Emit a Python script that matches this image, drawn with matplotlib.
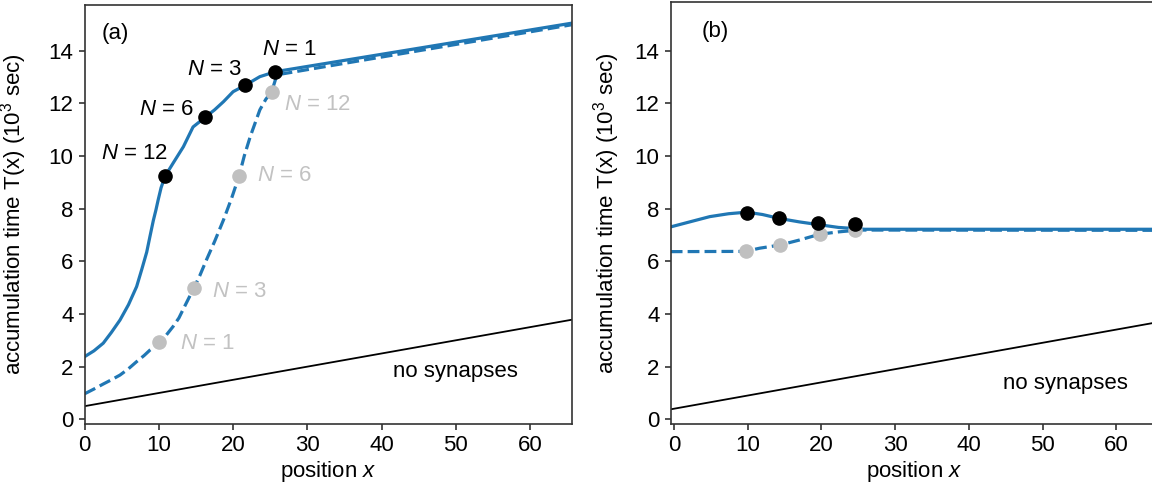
import matplotlib
matplotlib.use("Agg")
import matplotlib.pyplot as plt

plt.rcParams['font.family'] = ['Liberation Sans', 'DejaVu Sans']
plt.rcParams['mathtext.fontset'] = 'custom'
plt.rcParams['mathtext.rm'] = 'Liberation Sans'
plt.rcParams['mathtext.it'] = 'Liberation Sans:italic'
plt.rcParams['font.size'] = 16

BLUE = '#2077b4'
GREY = '#c0c0c0'

# panel (a): with synapses, solid / dashed
a_solid_x = [0.0, 1.25, 2.5, 3.6, 4.76, 5.9, 7.0, 7.7, 8.36, 8.8, 9.25, 9.6, 9.9,
             10.3, 10.85, 11.9, 13.3, 14.6, 16.2, 17.5, 18.7, 20.0, 21.6, 23.6,
             25.7, 65.6]
a_solid_y = [2.38, 2.6, 2.89, 3.3, 3.77, 4.35, 5.04, 5.7, 6.35, 6.95, 7.55, 7.95, 8.33,
             8.8, 9.24, 9.72, 10.35, 11.1, 11.46, 11.75, 12.06, 12.44, 12.68, 13.01,
             13.2, 15.04]
a_dash_x = [0.0, 1.25, 2.5, 3.6, 4.76, 5.9, 7.0, 8.0, 8.8, 9.4, 10.05, 11.0, 11.9,
            12.7, 13.4, 14.7, 15.5, 16.4, 17.5, 18.7, 19.8, 20.8, 21.5, 22.3, 23.6,
            24.4, 25.2, 25.9, 65.6]
a_dash_y = [0.97, 1.15, 1.34, 1.5, 1.68, 1.92, 2.19, 2.42, 2.63, 2.75, 2.92, 3.2, 3.52,
            3.85, 4.25, 4.98, 5.45, 6.05, 6.75, 7.57, 8.4, 9.24, 10.0, 10.73, 11.75,
            12.15, 12.44, 13.08, 14.98]
a_black_x = [10.85, 16.2, 21.6, 25.7]
a_black_y = [9.24, 11.46, 12.68, 13.2]
a_grey_x = [10.05, 14.7, 20.8, 25.2]
a_grey_y = [2.92, 4.98, 9.24, 12.44]
a_nosyn_x = [0.0, 65.6]
a_nosyn_y = [0.5, 3.78]

# panel (b)
b_solid_x = [-0.45, 2.4, 4.85, 7.4, 9.87, 12.0, 14.3, 17.0, 19.5, 22.3, 25.9, 65.6]
b_solid_y = [7.31, 7.52, 7.7, 7.81, 7.87, 7.78, 7.63, 7.5, 7.4, 7.29, 7.22, 7.22]
b_dash_x = [-0.45, 9.7, 11.6, 14.36, 17.0, 19.74, 22.3, 25.0, 65.6]
b_dash_y = [6.37, 6.38, 6.5, 6.62, 6.81, 7.03, 7.12, 7.19, 7.18]
b_black_x = [9.87, 14.27, 19.5, 24.6]
b_black_y = [7.85, 7.66, 7.44, 7.42]
b_grey_x = [9.78, 14.36, 19.74, 24.5]
b_grey_y = [6.39, 6.62, 7.03, 7.19]
b_nosyn_x = [-0.45, 65.6]
b_nosyn_y = [0.38, 3.69]

# N labels (a)
black_labels = ['$N$ = 12', '$N$ = 6', '$N$ = 3', '$N$ = 1']
black_lab_xy = [(2.15, 10.1), (7.36, 11.77), (13.83, 13.29), (23.85, 14.05)]
grey_labels = ['$N$ = 1', '$N$ = 3', '$N$ = 6', '$N$ = 12']
grey_lab_xy = [(12.8, 2.89), (17.1, 4.87), (23.2, 9.24), (26.86, 11.96)]

fig = plt.figure(figsize=(11.52, 4.87), dpi=100)
axa = fig.add_axes([0.0735, 0.1287, 0.4227, 0.861])
axb = fig.add_axes([0.5822, 0.1287, 0.4227, 0.867])

LW = 2.3
MS = 9.5


def style(ax, xlim, ylim):
    ax.set_xlim(*xlim)
    ax.set_ylim(*ylim)
    ax.set_xticks([0, 10, 20, 30, 40, 50, 60])
    ax.set_yticks([0, 2, 4, 6, 8, 10, 12, 14])
    for s in ax.spines.values():
        s.set_linewidth(1.2)
        s.set_color('#333333')
    ax.tick_params(length=4, width=1.2, color='#333333', pad=4)
    ax.set_xlabel('position $x$', labelpad=2)
    ax.set_ylabel('accumulation time T(x) (10$^3$ sec)')


# (a)
axa.plot(a_nosyn_x, a_nosyn_y, color='black', lw=1.3)
axa.plot(a_dash_x, a_dash_y, color=BLUE, lw=LW, ls='--')
axa.plot(a_grey_x, a_grey_y, 'o', color=GREY, ms=MS, zorder=3)
axa.plot(a_solid_x, a_solid_y, color=BLUE, lw=LW)
axa.plot(a_black_x, a_black_y, 'o', color='black', ms=MS, zorder=4)
for t, (x, y) in zip(black_labels, black_lab_xy):
    axa.text(x, y, t, color='black', ha='left', va='center')
for t, (x, y) in zip(grey_labels, grey_lab_xy):
    axa.text(x, y, t, color='#c2c2c2', ha='left', va='center')
axa.text(2.3, 14.66, '(a)', ha='left', va='center')
axa.text(41.6, 1.81, 'no synapses', ha='left', va='center')
style(axa, (0, 65.6), (-0.19, 15.73))
axa.yaxis.set_label_coords(-0.115, 0.5)

# (b)
axb.plot(b_nosyn_x, b_nosyn_y, color='black', lw=1.3)
axb.plot(b_dash_x, b_dash_y, color=BLUE, lw=LW, ls='--')
axb.plot(b_grey_x, b_grey_y, 'o', color=GREY, ms=MS, zorder=3)
axb.plot(b_solid_x, b_solid_y, color=BLUE, lw=LW)
axb.plot(b_black_x, b_black_y, 'o', color='black', ms=MS, zorder=4)
axb.text(3.74, 14.75, '(b)', ha='left', va='center')
axb.text(44.6, 1.37, 'no synapses', ha='left', va='center')
style(axb, (-0.45, 65.6), (-0.19, 15.85))
axb.yaxis.set_label_coords(-0.1, 0.5)

fig.savefig('out.png', dpi=100)
